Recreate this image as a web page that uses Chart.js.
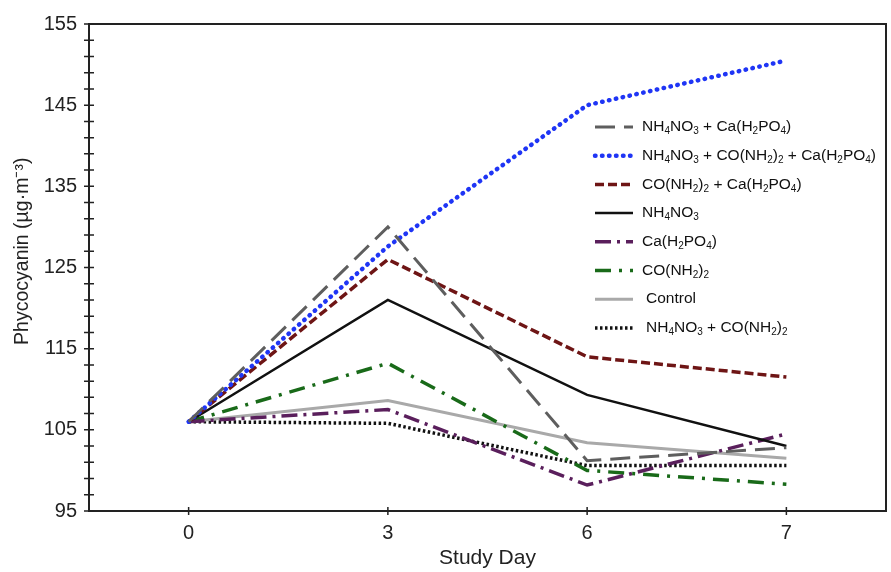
<!DOCTYPE html>
<html>
<head>
<meta charset="utf-8">
<script src="https://cdn.jsdelivr.net/npm/chart.js@4.4.1/dist/chart.umd.min.js"></script>
<style>
  html, body { margin: 0; padding: 0; background: #fff; }
</style>
</head>
<body>
<canvas id="phycoChart" width="891" height="572"></canvas>
<script>
const studyDays = ['0', '3', '6', '7'];

const seriesNames = [
  'NH₄NO₃ + Ca(H₂PO₄)',
  'NH₄NO₃ + CO(NH₂)₂ + Ca(H₂PO₄)',
  'CO(NH₂)₂ + Ca(H₂PO₄)',
  'NH₄NO₃',
  'Ca(H₂PO₄)',
  'CO(NH₂)₂',
  'Control',
  'NH₄NO₃ + CO(NH₂)₂',
];

const ammNitCaPhos = [106, 130, 101.2, 102.8];
const ammNitUreaCaPhos = [106, 127.6, 145, 150.5];
const ureaCaPhos = [106, 126, 114, 111.5];
const ammNit = [106, 121, 109.3, 103];
const caPhos = [106, 107.5, 98.2, 104.5];
const urea = [106, 113.2, 100, 98.3];
const control = [106, 108.6, 103.4, 101.5];
const ammNitUrea = [106, 105.8, 100.6, 100.6];

const yTickValues = [95, 105, 115, 125, 135, 145, 155];

const styles = [
  { color: '#5e5e5e', width: 3, dash: [20, 9], cap: 'butt' },
  { color: '#1f35f5', width: 4.5, dash: [0.5, 6.5], cap: 'round' },
  { color: '#6e1515', width: 3.5, dash: [9, 4], cap: 'butt' },
  { color: '#111111', width: 2.5, dash: [], cap: 'butt' },
  { color: '#5a1f5c', width: 3.5, dash: [16, 6, 3, 6], cap: 'butt' },
  { color: '#196a19', width: 3.5, dash: [16, 8, 3, 8], cap: 'butt' },
  { color: '#a9a9a9', width: 3, dash: [], cap: 'butt' },
  { color: '#111111', width: 3.5, dash: [2.5, 2.5], cap: 'butt' },
];

const seriesValues = [ammNitCaPhos, ammNitUreaCaPhos, ureaCaPhos, ammNit, caPhos, urea, control, ammNitUrea];

const FONT = '"Liberation Sans", Arial, sans-serif';
const SUBS = '₀₁₂₃₄₅₆₇₈₉';

function drawRich(ctx, str, x, y) {
  for (const ch of str) {
    const s = SUBS.indexOf(ch);
    if (s >= 0) {
      ctx.font = '10px ' + FONT;
      ctx.fillText(String(s), x, y + 4.5);
      x += ctx.measureText(String(s)).width;
    } else {
      ctx.font = '15.5px ' + FONT;
      ctx.fillText(ch, x, y);
      x += ctx.measureText(ch).width;
    }
  }
}

// box, crossing tick marks and the legend
const framePlugin = {
  id: 'framePlugin',
  afterDraw(chart) {
    const { ctx, chartArea: a, scales: { x, y } } = chart;
    ctx.save();
    ctx.strokeStyle = '#222';
    ctx.lineWidth = 2;
    ctx.setLineDash([]);
    ctx.strokeRect(a.left, a.top, a.right - a.left, a.bottom - a.top);

    ctx.lineWidth = 1.5;
    ctx.beginPath();
    y.ticks.forEach((t, i) => {
      const py = y.getPixelForTick(i);
      ctx.moveTo(a.left - 5, py);
      ctx.lineTo(a.left + 5, py);
    });
    x.ticks.forEach((t, i) => {
      const px = x.getPixelForTick(i);
      ctx.moveTo(px, a.bottom - 4);
      ctx.lineTo(px, a.bottom + 4);
    });
    ctx.stroke();

    const lx = 595, tx = 642, ly0 = 127, step = 28.7;
    chart.data.datasets.forEach((ds, i) => {
      const yy = ly0 + i * step;
      ctx.strokeStyle = ds.borderColor;
      ctx.lineWidth = ds.borderWidth;
      ctx.lineCap = ds.borderCapStyle;
      ctx.setLineDash(ds.borderDash);
      ctx.beginPath();
      ctx.moveTo(lx, yy);
      ctx.lineTo(lx + 38, yy);
      ctx.stroke();
      ctx.fillStyle = '#111';
      ctx.textBaseline = 'middle';
      drawRich(ctx, ds.label, i >= 6 ? tx + 4 : tx, yy);
    });
    ctx.restore();
  }
};

const datasets = seriesValues.map((vals, i) => ({
  label: seriesNames[i],
  data: vals,
  borderColor: styles[i].color,
  backgroundColor: styles[i].color,
  borderWidth: styles[i].width,
  borderDash: styles[i].dash,
  borderCapStyle: styles[i].cap,
  pointRadius: 0,
  tension: 0,
  fill: false,
}));

new Chart(document.getElementById('phycoChart'), {
  type: 'line',
  data: { labels: studyDays, datasets: datasets },
  options: {
    responsive: false,
    animation: false,
    layout: { padding: { left: 7, right: 5, top: 23, bottom: 0 } },
    plugins: {
      legend: { display: false },
      tooltip: { enabled: false },
    },
    scales: {
      x: {
        type: 'category',
        offset: true,
        grid: { display: false, drawTicks: false },
        border: { display: false },
        ticks: { font: { family: FONT, size: 20 }, color: '#222', padding: 10 },
        title: {
          display: true, text: 'Study Day',
          font: { family: FONT, size: 21 }, color: '#222',
          padding: { top: 0, bottom: 1.5 },
        },
        afterFit: (s) => { s.height = 61; },
      },
      y: {
        min: 95,
        max: 155,
        grid: { display: false, drawTicks: false },
        border: { display: false },
        ticks: {
          stepSize: 2,
          autoSkip: false,
          padding: 12,
          font: { family: FONT, size: 20 }, color: '#222',
          callback: (v) => yTickValues.includes(v) ? String(v) : '',
        },
        title: {
          display: true, text: '      Phycocyanin (µg·m⁻³)',
          font: { family: FONT, size: 19.5 }, color: '#222',
          padding: { top: 4, bottom: 4 },
        },
        afterFit: (s) => { s.width = 82; },
      },
    },
  },
  plugins: [framePlugin],
});
</script>
</body>
</html>
